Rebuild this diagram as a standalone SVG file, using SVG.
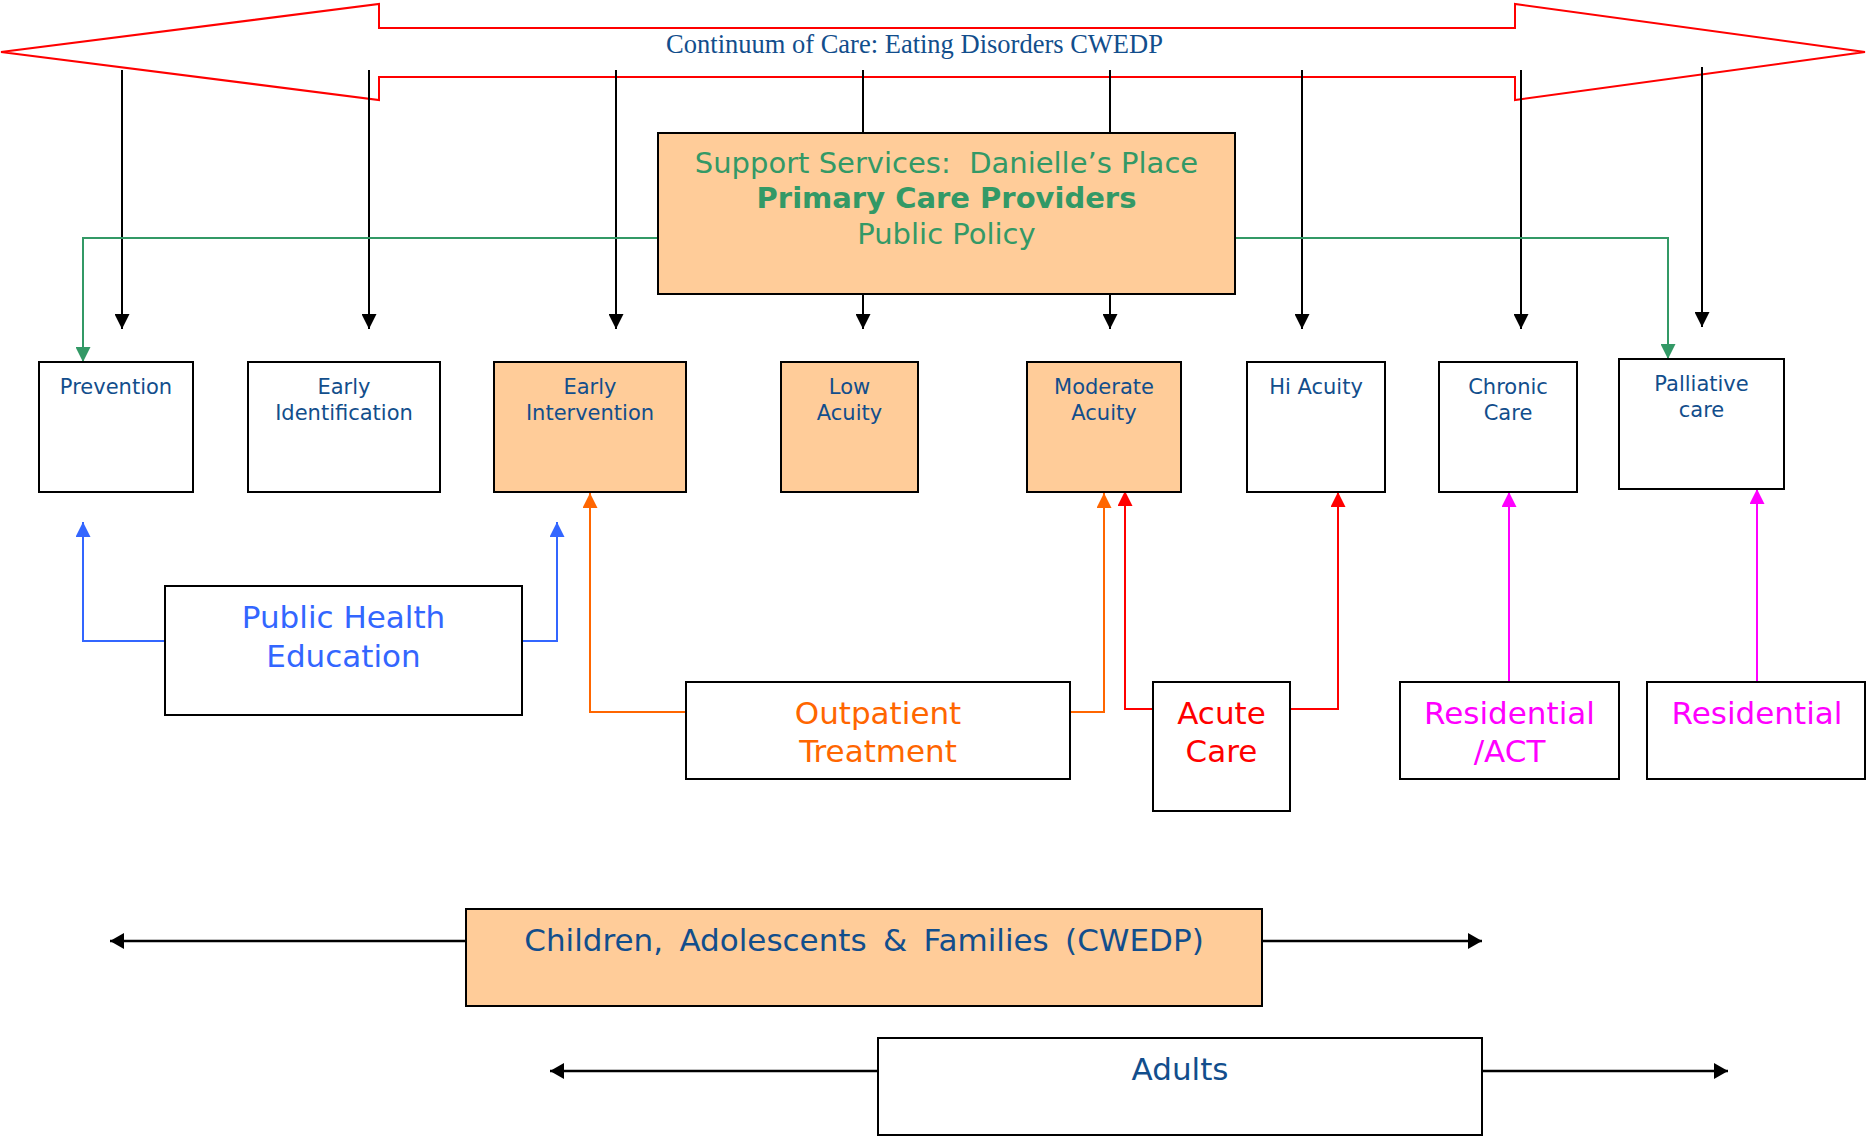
<svg xmlns="http://www.w3.org/2000/svg" width="1866" height="1138" viewBox="0 0 1866 1138">
<style>
.box{stroke:#000;stroke-width:2;fill:#fff}
.peach{fill:#FFCC99}
.lbl{font-family:"DejaVu Sans",Verdana,sans-serif;font-size:21px;fill:#124E8C;text-anchor:middle}
.big{font-family:"DejaVu Sans",Verdana,sans-serif;font-size:31px;text-anchor:middle}
.sup{font-family:"DejaVu Sans",Verdana,sans-serif;font-size:29px;fill:#339966;text-anchor:middle}
.k{stroke:#000;stroke-width:2;fill:none}
.g{stroke:#339966;stroke-width:2;fill:none}
.b{stroke:#3366FF;stroke-width:2;fill:none}
.o{stroke:#FF6600;stroke-width:2;fill:none}
.r{stroke:#FF0000;stroke-width:2;fill:none}
.m{stroke:#FF00FF;stroke-width:2;fill:none}
</style>
<defs>
<marker id="ak" markerUnits="userSpaceOnUse" markerWidth="15" markerHeight="15" refX="15" refY="7.5" orient="auto"><path d="M0,0 L15,7.5 L0,15 Z" fill="#000"/></marker>
<marker id="ak2" markerUnits="userSpaceOnUse" markerWidth="14" markerHeight="16" refX="14" refY="8" orient="auto-start-reverse"><path d="M0,0 L14,8 L0,16 Z" fill="#000"/></marker>
<marker id="ag" markerUnits="userSpaceOnUse" markerWidth="15" markerHeight="15" refX="15" refY="7.5" orient="auto"><path d="M0,0 L15,7.5 L0,15 Z" fill="#339966"/></marker>
<marker id="abl" markerUnits="userSpaceOnUse" markerWidth="15" markerHeight="15" refX="15" refY="7.5" orient="auto"><path d="M0,0 L15,7.5 L0,15 Z" fill="#3366FF"/></marker>
<marker id="ao" markerUnits="userSpaceOnUse" markerWidth="15" markerHeight="15" refX="15" refY="7.5" orient="auto"><path d="M0,0 L15,7.5 L0,15 Z" fill="#FF6600"/></marker>
<marker id="ar" markerUnits="userSpaceOnUse" markerWidth="15" markerHeight="15" refX="15" refY="7.5" orient="auto"><path d="M0,0 L15,7.5 L0,15 Z" fill="#FF0000"/></marker>
<marker id="am" markerUnits="userSpaceOnUse" markerWidth="15" markerHeight="15" refX="15" refY="7.5" orient="auto"><path d="M0,0 L15,7.5 L0,15 Z" fill="#FF00FF"/></marker>
</defs>
<rect width="1866" height="1138" fill="#fff"/>

<g id="continuum">
<path d="M1,52 L379,4 L379,28 L1515,28 L1515,4 L1865,52 L1515,100 L1515,77 L379,77 L379,100 Z" fill="none" stroke="#FF0000" stroke-width="2"/>
<text x="914.5" y="53" font-family="'Liberation Serif','Times New Roman',serif" font-size="26.5" fill="#124E8C" text-anchor="middle">Continuum of Care: Eating Disorders CWEDP</text>
</g>

<g id="connectors">
<line class="k" x1="122" y1="70" x2="122" y2="329" marker-end="url(#ak)"/>
<line class="k" x1="369" y1="70" x2="369" y2="329" marker-end="url(#ak)"/>
<line class="k" x1="616" y1="70" x2="616" y2="329" marker-end="url(#ak)"/>
<line class="k" x1="863" y1="70" x2="863" y2="133"/>
<line class="k" x1="863" y1="294" x2="863" y2="329" marker-end="url(#ak)"/>
<line class="k" x1="1110" y1="70" x2="1110" y2="133"/>
<line class="k" x1="1110" y1="294" x2="1110" y2="329" marker-end="url(#ak)"/>
<line class="k" x1="1302" y1="70" x2="1302" y2="329" marker-end="url(#ak)"/>
<line class="k" x1="1521" y1="70" x2="1521" y2="329" marker-end="url(#ak)"/>
<line class="k" x1="1702" y1="67" x2="1702" y2="327" marker-end="url(#ak)"/>
<polyline class="g" points="658,238 83,238 83,362" marker-end="url(#ag)"/>
<polyline class="g" points="1235,238 1668,238 1668,359" marker-end="url(#ag)"/>
<polyline class="b" points="165,641 83,641 83,522" marker-end="url(#abl)"/>
<polyline class="b" points="522,641 557,641 557,522" marker-end="url(#abl)"/>
<polyline class="o" points="686,712 590,712 590,493" marker-end="url(#ao)"/>
<polyline class="o" points="1070,712 1104,712 1104,493" marker-end="url(#ao)"/>
<polyline class="r" points="1153,709 1125,709 1125,491" marker-end="url(#ar)"/>
<polyline class="r" points="1290,709 1338,709 1338,492" marker-end="url(#ar)"/>
<line class="m" x1="1509" y1="682" x2="1509" y2="492" marker-end="url(#am)"/>
<line class="m" x1="1757" y1="682" x2="1757" y2="489" marker-end="url(#am)"/>
<line x1="466" y1="941" x2="110" y2="941" stroke="#000" stroke-width="2.5" marker-end="url(#ak2)"/>
<line x1="1262" y1="941" x2="1482" y2="941" stroke="#000" stroke-width="2.5" marker-end="url(#ak2)"/>
<line x1="878" y1="1071" x2="550" y2="1071" stroke="#000" stroke-width="2.5" marker-end="url(#ak2)"/>
<line x1="1482" y1="1071" x2="1728" y2="1071" stroke="#000" stroke-width="2.5" marker-end="url(#ak2)"/>
</g>

<g id="support">
<rect class="box peach" x="658" y="133" width="577" height="161"/>
<text class="sup" x="946.5" y="173">Support Services:&#160; Danielle’s Place</text>
<text class="sup" x="946.5" y="208" font-weight="bold">Primary Care Providers</text>
<text class="sup" x="946.5" y="244">Public Policy</text>
</g>

<g id="prevention"><rect class="box" x="39" y="362" width="154" height="130"/><text class="lbl" x="116" y="394">Prevention</text></g>
<g id="early-identification"><rect class="box" x="248" y="362" width="192" height="130"/><text class="lbl" x="344" y="394">Early</text><text class="lbl" x="344" y="420">Identification</text></g>
<g id="early-intervention"><rect class="box peach" x="494" y="362" width="192" height="130"/><text class="lbl" x="590" y="394">Early</text><text class="lbl" x="590" y="420">Intervention</text></g>
<g id="low-acuity"><rect class="box peach" x="781" y="362" width="137" height="130"/><text class="lbl" x="849.5" y="394">Low</text><text class="lbl" x="849.5" y="420">Acuity</text></g>
<g id="moderate-acuity"><rect class="box peach" x="1027" y="362" width="154" height="130"/><text class="lbl" x="1104" y="394">Moderate</text><text class="lbl" x="1104" y="420">Acuity</text></g>
<g id="hi-acuity"><rect class="box" x="1247" y="362" width="138" height="130"/><text class="lbl" x="1316" y="394">Hi Acuity</text></g>
<g id="chronic-care"><rect class="box" x="1439" y="362" width="138" height="130"/><text class="lbl" x="1508" y="394">Chronic</text><text class="lbl" x="1508" y="420">Care</text></g>
<g id="palliative-care"><rect class="box" x="1619" y="359" width="165" height="130"/><text class="lbl" x="1701.5" y="391">Palliative</text><text class="lbl" x="1701.5" y="417">care</text></g>

<g id="public-health-education"><rect class="box" x="165" y="586" width="357" height="129"/><text class="big" x="343.5" y="628" fill="#3366FF">Public Health</text><text class="big" x="343.5" y="667" fill="#3366FF">Education</text></g>
<g id="outpatient-treatment"><rect class="box" x="686" y="682" width="384" height="97"/><text class="big" x="878" y="724" fill="#FF6600">Outpatient</text><text class="big" x="878" y="762" fill="#FF6600">Treatment</text></g>
<g id="acute-care"><rect class="box" x="1153" y="682" width="137" height="129"/><text class="big" x="1221.5" y="724" fill="#FF0000">Acute</text><text class="big" x="1221.5" y="762" fill="#FF0000">Care</text></g>
<g id="residential-act"><rect class="box" x="1400" y="682" width="219" height="97"/><text class="big" x="1509.5" y="724" fill="#FF00FF">Residential</text><text class="big" x="1509.5" y="762" fill="#FF00FF">/ACT</text></g>
<g id="residential"><rect class="box" x="1647" y="682" width="218" height="97"/><text class="big" x="1757" y="724" fill="#FF00FF">Residential</text></g>

<g id="children"><rect class="box peach" x="466" y="909" width="796" height="97"/><text class="big" x="864" y="951" fill="#124E8C" word-spacing="6.5">Children, Adolescents &amp; Families (CWEDP)</text></g>
<g id="adults"><rect class="box" x="878" y="1038" width="604" height="97"/><text class="big" x="1180" y="1080" fill="#124E8C">Adults</text></g>
</svg>
